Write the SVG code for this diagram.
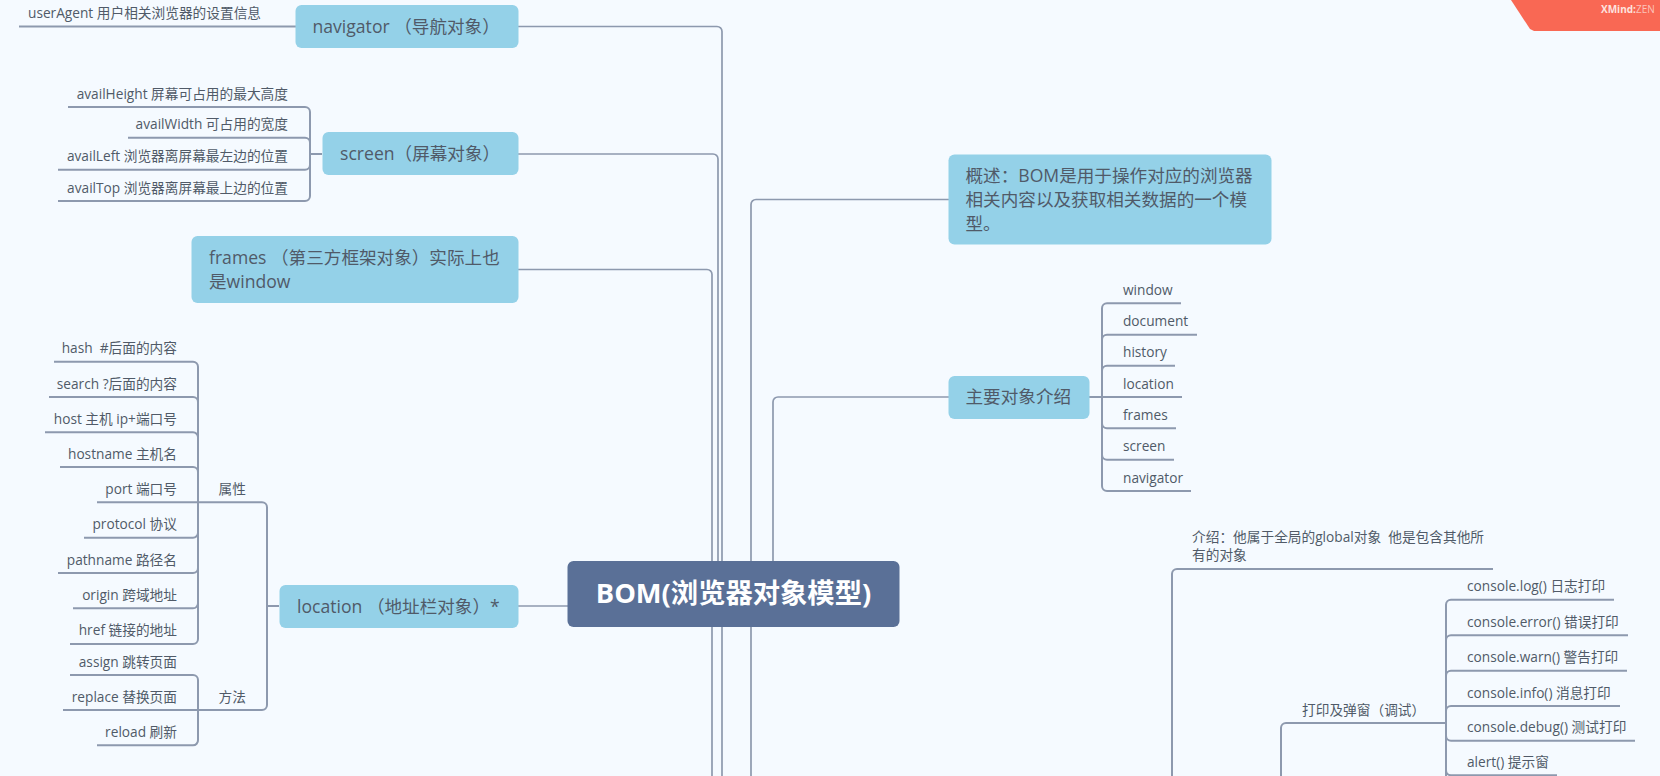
<svg xmlns="http://www.w3.org/2000/svg" width="1660" height="776" viewBox="0 0 1660 776">
<style>
  text { font-family: "Open Sans", "Noto Sans CJK SC", sans-serif; fill: #505a68; white-space: pre; }
  .leaf { font-size: 13.7px; }
  .end { text-anchor: end; }
  .topic { font-size: 17.6px; }
  .box { fill: #94d1e8; }
  .root { fill: #5a7097; }
  .roottext { font-size: 27.3px; font-weight: 700; fill: #fff; text-anchor: middle; }
  #connectors path { fill: none; stroke: #8d99ae; stroke-width: 2; }
  #connectors .thin { stroke-width: 1.7; }
</style>
<rect width="1660" height="776" fill="#f5faff"/>
<polygon points="1511,0 1660,0 1660,31 1534,31 1530,29" fill="#f96854"/>
<text x="1601" y="12.5" font-size="10" style="fill:#fde3df"><tspan font-weight="700">XMind:</tspan><tspan fill-opacity="0.75">ZEN</tspan></text>

<g id="connectors">
  <!-- trunk lines from the central topic -->
  <path class="thin" d="M518 26.5H717a5 5 0 0 1 5 5V776"/>
  <path class="thin" d="M518 154H713a5 5 0 0 1 5 5V561"/>
  <path class="thin" d="M518 269.5H707a5 5 0 0 1 5 5V776"/>
  <path class="thin" d="M480 606H568"/>
  <path class="thin" d="M949 199.5H756a5 5 0 0 0 -5 5V776"/>
  <path class="thin" d="M949 397H778a5 5 0 0 0 -5 5V561"/>
  <!-- navigator -->
  <path d="M19 26.5H296"/>
  <!-- screen children -->
  <path d="M322 154H310M68 107H305a5 5 0 0 1 5 5V196a5 5 0 0 1 -5 5H58M128 137.7H305a5 5 0 0 1 5 5V154M58 169.7H305a5 5 0 0 0 5 -5V154"/>
  <!-- location children -->
  <path d="M279 606H267M97 502.3H262a5 5 0 0 1 5 5V705a5 5 0 0 1 -5 5H63"/>
  <path d="M54 361.7H193a5 5 0 0 1 5 5V639a5 5 0 0 1 -5 5H70"/>
  <path d="M49 397H193a5 5 0 0 1 5 5V502"/>
  <path d="M45 432.3H193a5 5 0 0 1 5 5V502"/>
  <path d="M60 467H193a5 5 0 0 1 5 5V502"/>
  <path d="M84 537.7H193a5 5 0 0 0 5 -5V502"/>
  <path d="M58 573H193a5 5 0 0 0 5 -5V502"/>
  <path d="M73 608.3H193a5 5 0 0 0 5 -5V502"/>
  <path d="M70 675H193a5 5 0 0 1 5 5V740a5 5 0 0 1 -5 5.3H97"/>
  <!-- main object list -->
  <path d="M1089 397H1182M1181 303.3H1107a5 5 0 0 0 -5 5V486a5 5 0 0 0 5 5H1191"/>
  <path d="M1197 334.7H1107a5 5 0 0 0 -5 5V397"/>
  <path d="M1175 365.7H1107a5 5 0 0 0 -5 5V397"/>
  <path d="M1176 428.3H1107a5 5 0 0 1 -5 -5V397"/>
  <path d="M1174 459.7H1107a5 5 0 0 1 -5 -5V397"/>
  <!-- window branch -->
  <path d="M1493 569H1177a5 5 0 0 0 -5 5V776"/>
  <path d="M1446 723H1286a5 5 0 0 0 -5 5V776"/>
  <path d="M1614 599.7H1451a5 5 0 0 0 -5 5V776"/>
  <path d="M1628 635.3H1451a5 5 0 0 0 -5 5V723"/>
  <path d="M1627 670.7H1451a5 5 0 0 0 -5 5V723"/>
  <path d="M1620 706H1451a5 5 0 0 0 -5 5V723"/>
  <path d="M1635 740.7H1451a5 5 0 0 1 -5 -5V723"/>
  <path d="M1557 775.3H1451a5 5 0 0 1 -5 -5V723"/>
</g>

<g id="root"><rect class="root" x="567.5" y="561" width="332" height="66" rx="6"/><text class="roottext" x="733.5" y="603">BOM(浏览器对象模型)</text></g>

<g id="navigator"><rect class="box" x="295.5" y="5" width="223" height="43" rx="6"/><text class="topic" x="312.5" y="33">navigator （导航对象）</text></g>
<g id="user-agent"><text class="leaf" x="28" y="17.5">userAgent 用户相关浏览器的设置信息</text></g>

<g id="screen"><rect class="box" x="322.5" y="132" width="196" height="43" rx="6"/><text class="topic" x="340" y="160">screen（屏幕对象）</text></g>
<g id="avail-height"><text class="leaf end" x="288" y="98.5">availHeight 屏幕可占用的最大高度</text></g>
<g id="avail-width"><text class="leaf end" x="288" y="129.2">availWidth 可占用的宽度</text></g>
<g id="avail-left"><text class="leaf end" x="288" y="161.2">availLeft 浏览器离屏幕最左边的位置</text></g>
<g id="avail-top"><text class="leaf end" x="288" y="192.5">availTop 浏览器离屏幕最上边的位置</text></g>

<g id="frames"><rect class="box" x="191.5" y="236" width="327" height="67" rx="6"/><text class="topic" x="209" y="264">frames （第三方框架对象）实际上也</text><text class="topic" x="209" y="288">是window</text></g>

<g id="location"><rect class="box" x="279.5" y="585" width="239" height="43" rx="6"/><text class="topic" x="297" y="612.5">location （地址栏对象）*</text></g>
<g id="props"><text class="leaf" x="218.5" y="494">属性</text></g>
<g id="methods"><text class="leaf" x="218.5" y="701.5">方法</text></g>
<g id="hash"><text class="leaf end" x="177" y="353">hash  #后面的内容</text></g>
<g id="search"><text class="leaf end" x="177" y="388.5">search ?后面的内容</text></g>
<g id="host"><text class="leaf end" x="177" y="423.8">host 主机 ip+端口号</text></g>
<g id="hostname"><text class="leaf end" x="177" y="458.5">hostname 主机名</text></g>
<g id="port"><text class="leaf end" x="177" y="493.8">port 端口号</text></g>
<g id="protocol"><text class="leaf end" x="177" y="529.2">protocol 协议</text></g>
<g id="pathname"><text class="leaf end" x="177" y="564.5">pathname 路径名</text></g>
<g id="origin"><text class="leaf end" x="177" y="599.8">origin 跨域地址</text></g>
<g id="href"><text class="leaf end" x="177" y="635.2">href 链接的地址</text></g>
<g id="assign"><text class="leaf end" x="177" y="666.5">assign 跳转页面</text></g>
<g id="replace"><text class="leaf end" x="177" y="701.5">replace 替换页面</text></g>
<g id="reload"><text class="leaf end" x="177" y="736.8">reload 刷新</text></g>

<g id="overview"><rect class="box" x="948.5" y="154.5" width="323" height="90" rx="6"/><text class="topic" x="965.5" y="182">概述：BOM是用于操作对应的浏览器</text><text class="topic" x="965.5" y="206">相关内容以及获取相关数据的一个模</text><text class="topic" x="965.5" y="230">型。</text></g>

<g id="main-objects"><rect class="box" x="948.5" y="376" width="141" height="43" rx="6"/><text class="topic" x="965.5" y="403">主要对象介绍</text></g>
<g id="o-window"><text class="leaf" x="1123" y="295">window</text></g>
<g id="o-document"><text class="leaf" x="1123" y="326">document</text></g>
<g id="o-history"><text class="leaf" x="1123" y="357.2">history</text></g>
<g id="o-location"><text class="leaf" x="1123" y="388.5">location</text></g>
<g id="o-frames"><text class="leaf" x="1123" y="419.8">frames</text></g>
<g id="o-screen"><text class="leaf" x="1123" y="451.2">screen</text></g>
<g id="o-navigator"><text class="leaf" x="1123" y="482.5">navigator</text></g>

<g id="intro"><text class="leaf" x="1192" y="542">介绍：他属于全局的global对象  他是包含其他所</text><text class="leaf" x="1192" y="560">有的对象</text></g>
<g id="debug"><text class="leaf" x="1302" y="714.5">打印及弹窗（调试）</text></g>
<g id="c-log"><text class="leaf" x="1467" y="591.2">console.log() 日志打印</text></g>
<g id="c-error"><text class="leaf" x="1467" y="626.8">console.error() 错误打印</text></g>
<g id="c-warn"><text class="leaf" x="1467" y="662.2">console.warn() 警告打印</text></g>
<g id="c-info"><text class="leaf" x="1467" y="697.5">console.info() 消息打印</text></g>
<g id="c-debug"><text class="leaf" x="1467" y="732.2">console.debug() 测试打印</text></g>
<g id="alert"><text class="leaf" x="1467" y="766.8">alert() 提示窗</text></g>
</svg>
